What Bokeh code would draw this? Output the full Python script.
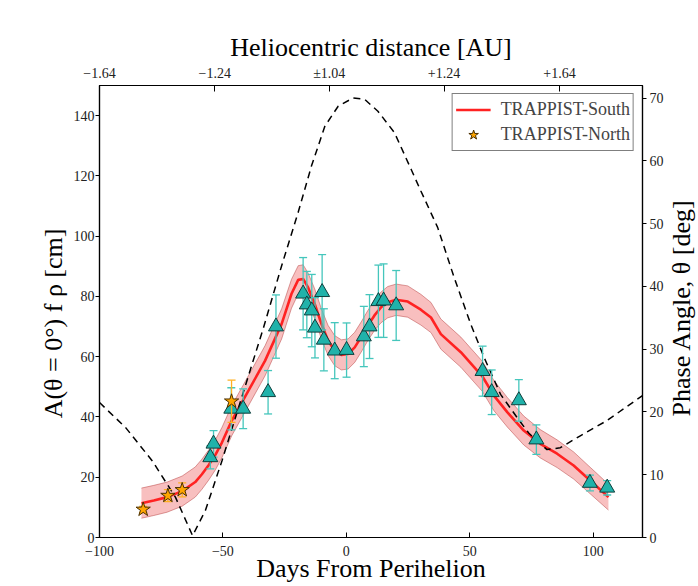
import math
from bokeh.plotting import figure
from bokeh.layouts import row
from bokeh.models import (Range1d, LinearAxis, FixedTicker, Legend, LegendItem)
from bokeh.core.properties import value
from bokeh.embed import file_html
from bokeh.resources import INLINE

# ---------------- data ----------------
# TRAPPIST-South (triangles): days from perihelion, A(0)frho [cm], error
south_days = [-55.1, -53.8, -46.6, -41.8, -31.7, -28.5, -17.5, -16.0, -14.0, -12.7,
              -9.8, -9.1, -4.7, 0.1, 7.1, 9.4, 13.0, 15.1, 20.2,
              55.2, 58.9, 69.9, 77.0, 98.7, 105.7]
south_afrho = [26.6, 31.1, 42.7, 42.7, 48.2, 70.0, 80.9, 77.3, 75.3, 69.6,
               81.4, 65.6, 62.0, 62.2, 66.7, 70.0, 78.4, 78.6, 77.0,
               55.2, 48.2, 45.5, 32.5, 18.1, 16.5]
south_err = [3.8, 4.4, 7.0, 6.6, 7.2, 10.5, 12.0, 11.0, 12.0, 10.0,
             12.5, 10.3, 9.3, 9.0, 10.0, 10.6, 12.0, 12.2, 11.6,
             8.3, 7.4, 6.9, 4.9, 2.6, 2.4]

# TRAPPIST-North (stars)
north_days = [-82.3, -72.3, -66.5, -46.5]
north_afrho = [9.3, 13.9, 15.8, 45.2]
north_err = [1.0, 2.0, 2.3, 7.0]

# fitted curve and its uncertainty half-width
fit_days = [-83.0, -78.0, -72.6, -66.5, -61.2, -58.5, -55.8, -53.0, -50.4, -46.4,
            -39.6, -32.9, -26.2, -22.2, -19.5, -17.5, -15.5, -12.8, -10.1, -7.4,
            -4.7, -2.0, 0.7, 3.4, 6.0, 8.7, 11.4, 14.1, 16.8, 20.2,
            24.9, 30.2, 34.3, 38.3, 46.4, 55.1, 59.8, 65.2, 71.9, 78.6,
            85.4, 92.1, 98.8, 106.2]
fit_afrho = [11.4, 12.3, 13.4, 15.4, 18.4, 21.0, 24.0, 27.5, 31.5, 38.8,
             48.8, 58.7, 70.9, 80.9, 85.5, 85.8, 83.0, 77.5, 70.9, 65.4,
             62.0, 60.6, 60.9, 63.1, 66.5, 70.3, 73.7, 76.4, 78.1, 78.9,
             78.3, 75.6, 73.0, 67.5, 61.5, 53.5, 47.1, 41.6, 35.5, 31.1,
             27.8, 23.9, 18.9, 13.4]
fit_halfwidth = [5.0, 5.0, 5.0, 5.0, 5.0, 5.0, 5.0, 5.0, 5.0, 5.0,
                 5.0, 5.0, 5.0, 4.8, 4.7, 4.7, 4.8, 5.0, 5.0, 5.0,
                 5.0, 5.0, 5.0, 5.0, 5.0, 5.0, 5.0, 5.1, 5.2, 5.2,
                 5.2, 5.1, 5.0, 5.0, 5.0, 5.0, 5.0, 4.9, 4.8, 4.7,
                 4.6, 4.5, 4.4, 4.3]

# phase angle (right axis, deg)
phase_days = [-100.0, -89.4, -78.6, -69.2, -62.3, -57.1, -50.4, -33.5, -26.2, -19.5,
              -14.1, -8.7, -3.3, 2.7, 7.4, 12.8, 19.5, 26.2, 30.2, 37.0,
              43.7, 50.4, 55.8, 62.5, 69.2, 74.0, 77.3, 81.3, 86.7, 94.8,
              105.5, 120.0]
phase_deg = [21.5, 17.5, 12.2, 6.4, 0.3, 4.3, 12.2, 33.5, 43.3, 51.8,
             59.2, 65.5, 68.7, 70.0, 69.8, 67.9, 64.5, 58.7, 55.2, 49.4,
             41.4, 34.0, 28.7, 22.8, 19.1, 16.6, 15.4, 14.0, 14.3, 16.2,
             18.6, 22.6]

# axes ticks and titles
bottom_ticks = [-100, -50, 0, 50, 100]
bottom_labels = ["\u2212100", "\u221250", "0", "50", "100"]
left_ticks = [0, 20, 40, 60, 80, 100, 120, 140]
right_ticks = [0, 10, 20, 30, 40, 50, 60, 70]
helio_tick_days = [-100.0, -53.3, -6.9, 39.6, 86.4]
helio_labels = ["\u22121.64", "\u22121.24", "\u00b11.04", "+1.24", "+1.64"]
left_title = ["A(\u03b8 = 0\u00b0) f \u03c1 [cm]"]
right_title = ["Phase Angle, \u03b8 [deg]"]

# ---------------- layout constants (pixels) ----------------
FONT = "Liberation Serif"
TEAL = "#20B2AA"
TEAL_ERR = "#45C6BC"
RED = "#FF2222"
H = 586
LEFT_W, RIGHT_W = 70, 32
MAIN_W = 698 - LEFT_W - RIGHT_W


def title_strip(width, title, cx, cy):
    """narrow figure holding one vertical axis title (reads bottom-to-top)"""
    s = figure(width=width, height=H, x_range=Range1d(0, width), y_range=Range1d(0, H),
               output_backend="svg", toolbar_location=None,
               x_axis_location=None, y_axis_location=None, min_border=0)
    s.grid.visible = False
    s.outline_line_color = None
    s.background_fill_color = "white"
    s.border_fill_color = "white"
    s.text(x=[cx], y=[cy], text=title, angle=math.pi / 2, text_align="center",
           text_baseline="middle", text_font=value(FONT), text_font_size="26px",
           text_color="black")
    return s


left_strip = title_strip(LEFT_W, left_title, 53.0, H - 308.5)
right_strip = title_strip(RIGHT_W, right_title, 681 - (698 - RIGHT_W), H - 288)

p = figure(width=MAIN_W, height=H, x_range=Range1d(-100, 120), y_range=Range1d(0, 150),
           output_backend="svg", toolbar_location=None,
           min_border_left=97 - LEFT_W, min_border_right=MAIN_W + LEFT_W - 643,
           min_border_top=85, min_border_bottom=H - 537)
p.extra_y_ranges = {"phase": Range1d(0, 72)}
p.grid.visible = False
p.outline_line_color = "black"
p.outline_line_width = 1.2
p.background_fill_color = "white"
p.border_fill_color = "white"


def style_axis(ax, tin, tout):
    ax.axis_line_color = "black"
    ax.axis_line_width = 1.2
    ax.major_tick_line_color = "black"
    ax.major_tick_in = tin
    ax.major_tick_out = tout
    ax.minor_tick_in = 0
    ax.minor_tick_out = 0
    ax.major_label_text_font = FONT
    ax.major_label_text_font_size = "14px"
    ax.major_label_text_color = "#222222"
    ax.axis_label_text_font = FONT
    ax.axis_label_text_font_size = "26px"
    ax.axis_label_text_font_style = "normal"
    ax.axis_label_text_color = "black"


xb = p.xaxis[0]
xb.ticker = FixedTicker(ticks=bottom_ticks)
xb.major_label_overrides = dict(zip(bottom_ticks, bottom_labels))
xb.axis_label = "Days From Perihelion"
style_axis(xb, 5, 0)
xb.major_label_standoff = 8
xb.axis_label_standoff = -5

yl = p.yaxis[0]
yl.ticker = FixedTicker(ticks=left_ticks)
style_axis(yl, 0, 4)
yl.major_label_standoff = 1

xt = LinearAxis(ticker=FixedTicker(ticks=helio_tick_days),
                major_label_overrides=dict(zip(helio_tick_days, helio_labels)),
                axis_label="Heliocentric distance [AU]")
style_axis(xt, 6, 0)
xt.major_label_standoff = 5
xt.axis_label_standoff = 1
p.add_layout(xt, "above")

yr = LinearAxis(y_range_name="phase", ticker=FixedTicker(ticks=right_ticks))
style_axis(yr, 0, 4)
yr.major_label_standoff = 3
p.add_layout(yr, "right")

# ---------------- glyphs ----------------
fit_lo = [v - h for v, h in zip(fit_afrho, fit_halfwidth)]
fit_hi = [v + h for v, h in zip(fit_afrho, fit_halfwidth)]
p.varea(x=fit_days, y1=fit_lo, y2=fit_hi, fill_color="#F07070", fill_alpha=0.45)
p.line(fit_days, fit_lo, line_color="#B03030", line_alpha=0.45, line_width=1)
p.line(fit_days, fit_hi, line_color="#B03030", line_alpha=0.45, line_width=1)
south_line = p.line(fit_days, fit_afrho, line_color=RED, line_width=2.6)

p.line(phase_days, phase_deg, y_range_name="phase", line_color="black",
       line_width=1.5, line_dash="7 5")

s_lo = [v - e for v, e in zip(south_afrho, south_err)]
s_hi = [v + e for v, e in zip(south_afrho, south_err)]
p.segment(x0=south_days, y0=s_lo, x1=south_days, y1=s_hi, line_color=TEAL_ERR, line_width=1.3)
p.scatter(south_days, s_lo, marker="dash", size=8, line_color=TEAL_ERR, line_width=1.3)
p.scatter(south_days, s_hi, marker="dash", size=8, line_color=TEAL_ERR, line_width=1.3)
p.scatter(south_days, south_afrho, marker="triangle", size=15, fill_color=TEAL,
          line_color="#0F3F3C", line_width=1)

n_lo = [v - e for v, e in zip(north_afrho, north_err)]
n_hi = [v + e for v, e in zip(north_afrho, north_err)]
p.segment(x0=north_days, y0=n_lo, x1=north_days, y1=n_hi, line_color="#FFB020", line_width=1.3)
p.scatter(north_days, n_lo, marker="dash", size=8, line_color="#FFB020", line_width=1.3)
p.scatter(north_days, n_hi, marker="dash", size=8, line_color="#FFB020", line_width=1.3)
north_r = p.scatter(north_days, north_afrho, marker="star", size=15, fill_color="#FFA500",
                    line_color="#4A3000", line_width=1)

legend = Legend(items=[LegendItem(label="TRAPPIST-South", renderers=[south_line]),
                       LegendItem(label="TRAPPIST-North", renderers=[north_r])],
                location="top_right")
legend.border_line_color = "black"
legend.border_line_width = 1.2
legend.background_fill_color = "white"
legend.background_fill_alpha = 1
legend.label_text_font = FONT
legend.label_text_font_size = "18px"
legend.glyph_width = 35
legend.glyph_height = 25
legend.label_height = 25
legend.spacing = 0
legend.padding = 3
legend.margin = 8
legend.label_standoff = 10
p.add_layout(legend)

layout = row(left_strip, p, right_strip, spacing=0)
open("out.html", "w").write(file_html(layout, INLINE))
